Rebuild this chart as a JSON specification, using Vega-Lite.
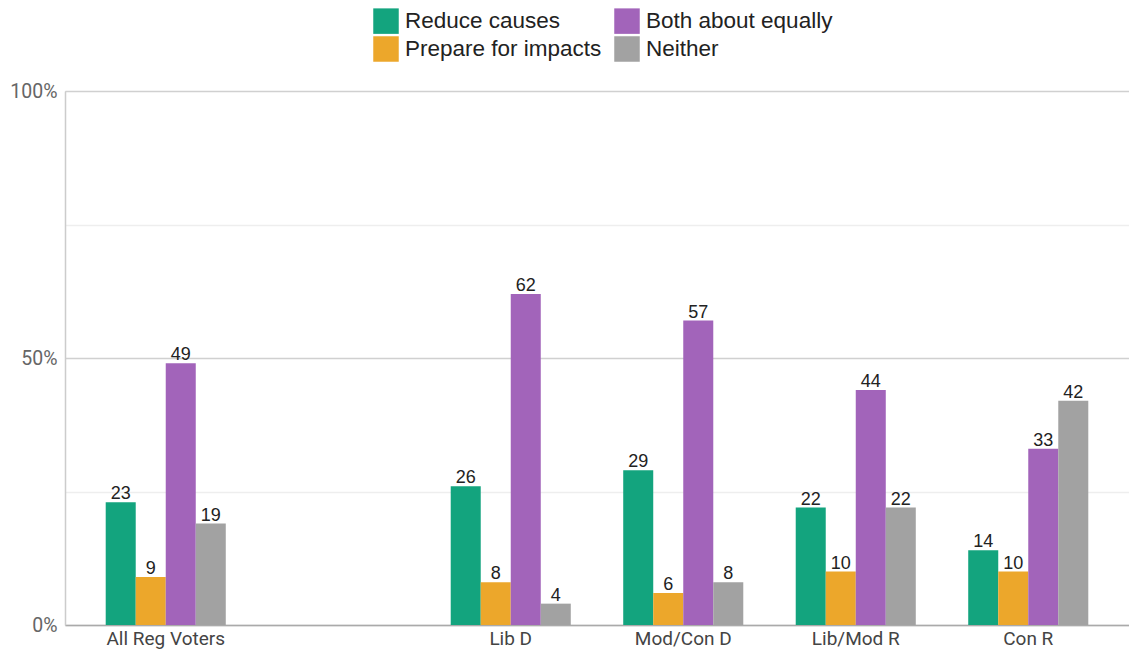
{
  "$schema": "https://vega.github.io/schema/vega-lite/v6.json",
  "width": 1064,
  "height": 534,
  "autosize": "none",
  "padding": {"left": 65, "top": 91, "right": 0, "bottom": 26},
  "background": "white",
  "data": {
    "values": [
      {"group": "All Reg Voters", "answer": "Reduce causes", "value": 23},
      {"group": "All Reg Voters", "answer": "Prepare for impacts", "value": 9},
      {"group": "All Reg Voters", "answer": "Both about equally", "value": 49},
      {"group": "All Reg Voters", "answer": "Neither", "value": 19},
      {"group": "Lib D", "answer": "Reduce causes", "value": 26},
      {"group": "Lib D", "answer": "Prepare for impacts", "value": 8},
      {"group": "Lib D", "answer": "Both about equally", "value": 62},
      {"group": "Lib D", "answer": "Neither", "value": 4},
      {"group": "Mod/Con D", "answer": "Reduce causes", "value": 29},
      {"group": "Mod/Con D", "answer": "Prepare for impacts", "value": 6},
      {"group": "Mod/Con D", "answer": "Both about equally", "value": 57},
      {"group": "Mod/Con D", "answer": "Neither", "value": 8},
      {"group": "Lib/Mod R", "answer": "Reduce causes", "value": 22},
      {"group": "Lib/Mod R", "answer": "Prepare for impacts", "value": 10},
      {"group": "Lib/Mod R", "answer": "Both about equally", "value": 44},
      {"group": "Lib/Mod R", "answer": "Neither", "value": 22},
      {"group": "Con R", "answer": "Reduce causes", "value": 14},
      {"group": "Con R", "answer": "Prepare for impacts", "value": 10},
      {"group": "Con R", "answer": "Both about equally", "value": 33},
      {"group": "Con R", "answer": "Neither", "value": 42}
    ]
  },
  "encoding": {
    "x": {
      "field": "group",
      "type": "nominal",
      "sort": null,
      "scale": {
        "domain": ["All Reg Voters", " ", "Lib D", "Mod/Con D", "Lib/Mod R", "Con R"],
        "paddingInner": 0.304,
        "paddingOuter": 0.236
      },
      "axis": {
        "title": null,
        "labelAngle": 0,
        "ticks": false,
        "domainColor": "#aaaaaa",
        "domainWidth": 1.5,
        "labelFont": "Roboto",
        "labelFontSize": 19,
        "labelColor": "#444444",
        "labelPadding": 4,
        "grid": false
      }
    },
    "xOffset": {
      "field": "answer",
      "type": "nominal",
      "scale": {"domain": ["Reduce causes", "Prepare for impacts", "Both about equally", "Neither"], "paddingInner": 0}
    },
    "y": {
      "field": "value",
      "type": "quantitative",
      "scale": {"domain": [0, 100], "nice": false},
      "axis": {
        "title": null,
        "values": [0, 25, 50, 75, 100],
        "labelExpr": "datum.value % 50 === 0 ? datum.value + '%' : ''",
        "ticks": false,
        "domain": true,
        "domainColor": "#cccccc",
        "domainWidth": 1.5,
        "grid": true,
        "gridColor": {"condition": {"test": "datum.value % 50 === 0", "value": "#d0d0d0"}, "value": "#eeeeee"},
        "gridWidth": 1.5,
        "labelFont": "Roboto",
        "labelFontSize": 19.5,
        "labelColor": "#666666",
        "labelPadding": 8
      }
    }
  },
  "layer": [
    {
      "mark": {"type": "bar"},
      "encoding": {
        "color": {
          "field": "answer",
          "type": "nominal",
          "scale": {
            "domain": ["Reduce causes", "Prepare for impacts", "Both about equally", "Neither"],
            "range": ["#13a47e", "#eca72b", "#a264ba", "#a2a2a2"]
          },
          "legend": {
            "title": null,
            "orient": "none",
            "legendX": 308,
            "legendY": -83,
            "columns": 2,
            "direction": "horizontal",
            "values": ["Reduce causes", "Both about equally", "Prepare for impacts", "Neither"],
            "symbolType": "square",
            "symbolSize": 650,
            "symbolStrokeWidth": 0,
            "symbolOpacity": 1,
            "labelFont": "Liberation Sans",
            "labelFontSize": 22.5,
            "labelColor": "#222222",
            "labelOffset": 6,
            "rowPadding": 2,
            "columnPadding": 12,
            "labelLimit": 400
          }
        }
      }
    },
    {
      "mark": {"type": "text", "baseline": "bottom", "dy": 1, "font": "Liberation Sans", "fontSize": 18, "color": "#222222"},
      "encoding": {
        "text": {"field": "value", "type": "quantitative"}
      }
    }
  ]
}
